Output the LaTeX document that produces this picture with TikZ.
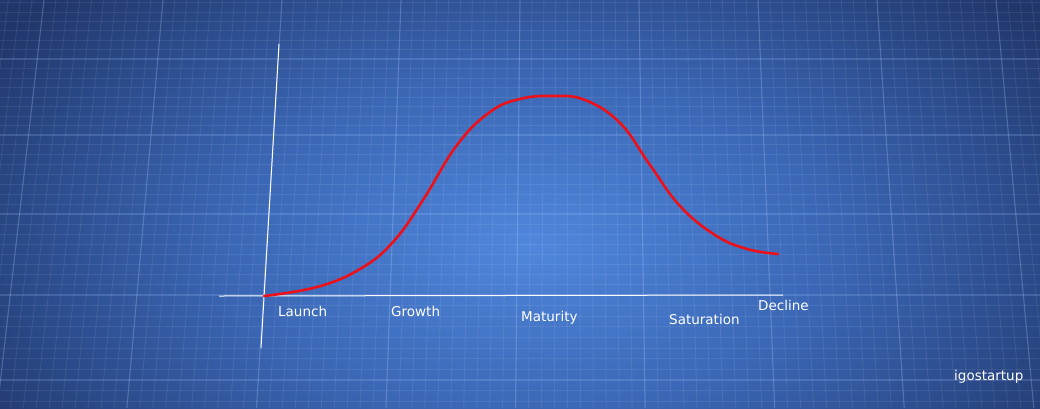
\documentclass[tikz,border=0pt]{standalone}
\usepackage{fontspec}
\setmainfont{DejaVu Sans}
\definecolor{bgc}{RGB}{80,135,220}
\definecolor{bgm}{RGB}{58,102,180}
\definecolor{bgo}{RGB}{33,55,108}
\definecolor{curvered}{RGB}{238,16,24}
\pgfdeclareradialshading{bgshade}{\pgfpoint{0bp}{0bp}}{color(0bp)=(bgc); color(12bp)=(bgm); color(25bp)=(bgo); color(50bp)=(bgo)}
\tikzset{
  minorline/.style={white, opacity=0.08, line width=0.9pt},
  majorline/.style={color={rgb,255:red,170;green,200;blue,255}, opacity=0.2, line width=1.2pt},
  axisline/.style={white, line width=1pt},
  lifecurve/.style={curvered, line width=2.6pt, line cap=round},
  stagelabel/.style={white, font=\fontsize{13.5}{16}\selectfont, anchor=base west, inner sep=0pt},
}
\begin{document}
\begin{tikzpicture}[x=1pt, y=-1pt]
\useasboundingbox (0,0) rectangle (1040,408);
\fill[bgo] (0,0) rectangle (1040,408);
\begin{scope}
\clip (0,0) rectangle (1040,408);
\shade[shading=bgshade] (530,245) ellipse (640 and 360);
% vertical grid lines (slight perspective)
\foreach \k in {-12,...,92} {
  \pgfmathsetmacro\xt{44+11.9*\k}
  \pgfmathsetmacro\xb{570+(\xt-570)*1.0887}
  \draw[minorline] (\xt,0) -- (\xb,408);
}
\foreach \k in {-2,...,9} {
  \pgfmathsetmacro\xt{44+119*\k}
  \pgfmathsetmacro\xb{570+(\xt-570)*1.0887}
  \draw[majorline] (\xt,0) -- (\xb,408);
}
% horizontal grid lines
\foreach \a/\b in {-90/-16,-16/59,59/135,135/214,214/295,295/380,380/466} {
  \foreach \j in {1,...,7} {
    \pgfmathsetmacro\yy{\a+(\b-\a)*\j/8}
    \draw[minorline] (0,\yy) -- (1040,\yy);
  }
  \draw[majorline] (0,\b) -- (1040,\b);
}
\end{scope}
% axes
\coordinate (ytop) at (279,44);
\coordinate (ybot) at (261,348);
\coordinate (xleft) at (219,296);
\coordinate (xright) at (783,295);
\draw[axisline] (ytop) -- (ybot);
\draw[axisline] (xleft) -- (xright);
% curve
\draw[lifecurve] plot[smooth, tension=0.7] coordinates {
 (264,296) (317,287) (360,269) (393,242) (423,200) (457,145) (490,112)
 (520,99) (553,96) (585,100) (620,123) (650,165) (680,206) (715,235)
 (747,249) (778,254)};
% labels
\node[stagelabel] (launch) at (278,316) {Launch};
\node[stagelabel] (growth) at (391,316) {Growth};
\node[stagelabel] (maturity) at (521,321) {Maturity};
\node[stagelabel] (saturation) at (669,324) {Saturation};
\node[stagelabel] (decline) at (758,310) {Decline};
\node[stagelabel] (brand) at (954,380) {igostartup};
\end{tikzpicture}
\end{document}
